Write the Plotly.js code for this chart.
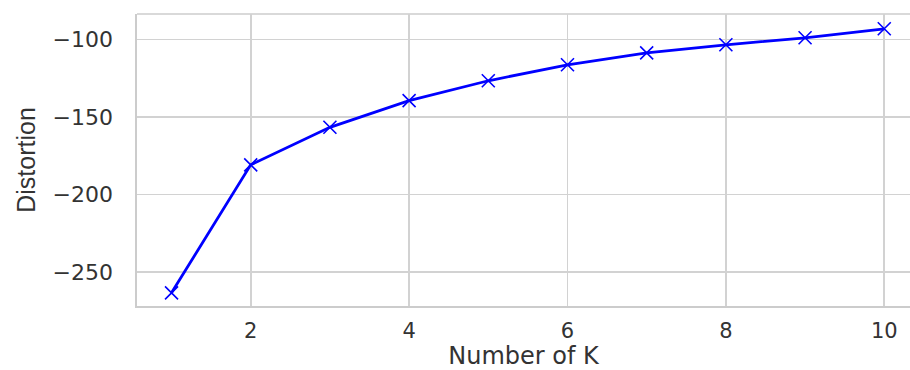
<!DOCTYPE html>
<html>
<head>
<meta charset="utf-8">
<script src="https://cdn.plot.ly/plotly-3.0.1.min.js"></script>
<style>html,body{margin:0;padding:0;background:#fff;overflow:hidden;}</style>
</head>
<body>
<div id="chart" style="width:910px;height:370px;"></div>
<script>
const kValues = [1, 2, 3, 4, 5, 6, 7, 8, 9, 10];
const distortion = [-263.3, -180.8, -156.6, -139.4, -126.6, -116.3, -108.6, -103.4, -98.9, -93.1];
const xTicks = [2, 4, 6, 8, 10];
const yTicks = [-250, -200, -150, -100];

const frame = '#cccccc';
const grid = '#d2d2d2';
const textColor = '#333333';

const trace = {
  x: kValues,
  y: distortion,
  type: 'scatter',
  mode: 'lines+markers',
  line: {color: '#0000ff', width: 2.8},
  marker: {symbol: 'x-thin-open', size: 13, color: '#0000ff', line: {color: '#0000ff', width: 1.6}},
  hoverinfo: 'skip'
};

const layout = {
  width: 910,
  height: 370,
  margin: {l: 137, r: 0, t: 14, b: 64, pad: 0},
  paper_bgcolor: '#ffffff',
  plot_bgcolor: '#ffffff',
  showlegend: false,
  font: {family: 'DejaVu Sans, Liberation Sans, sans-serif', color: textColor, size: 22},
  xaxis: {
    range: [0.564, 10.325],
    tickmode: 'array',
    tickvals: xTicks,
    ticks: '',
    showgrid: true,
    gridcolor: grid,
    gridwidth: 1.7,
    zeroline: false,
    showline: true,
    linecolor: frame,
    linewidth: 1.7,
    tickfont: {size: 21, color: textColor},
    ticklabelstandoff: 5,
    automargin: false,
    title: {text: 'Number of K', font: {size: 24, color: textColor}, standoff: 11}
  },
  yaxis: {
    range: [-271.8, -83.56],
    tickmode: 'array',
    tickvals: yTicks,
    ticks: '',
    showgrid: true,
    gridcolor: grid,
    gridwidth: 1.7,
    zeroline: false,
    showline: true,
    linecolor: frame,
    linewidth: 1.7,
    tickfont: {size: 22, color: textColor},
    ticklabelstandoff: 18,
    automargin: false,
    title: {text: 'Distortion', font: {family: 'Liberation Sans, Arial, sans-serif', size: 25, color: textColor}, standoff: 10}
  },
  shapes: [
    {type: 'line', xref: 'paper', yref: 'paper', x0: 0, x1: 1, y0: 1, y1: 1, line: {color: frame, width: 1.7}, layer: 'below'}
  ]
};

Plotly.newPlot('chart', [trace], layout, {displayModeBar: false, staticPlot: true});
</script>
</body>
</html>
